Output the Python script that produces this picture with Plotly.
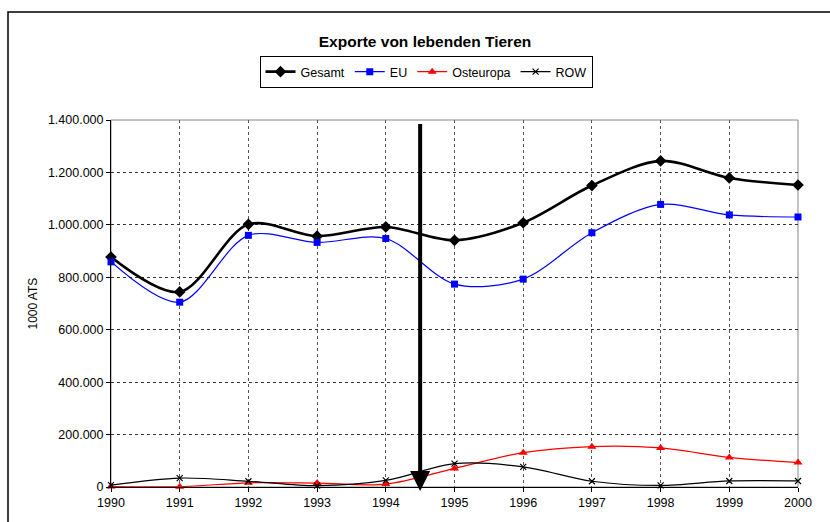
import plotly.graph_objects as go

# Exporte von lebenden Tieren, Werte in 1000 ATS
years = [1990, 1991, 1992, 1993, 1994, 1995, 1996, 1997, 1998, 1999, 2000]
gesamt = [877000, 744000, 1002000, 957000, 992000, 941000, 1008000, 1150000, 1244000, 1179000, 1152000]
eu = [859000, 705000, 960000, 933000, 948000, 774000, 793000, 970000, 1078000, 1038000, 1030000]
osteuropa = [2000, 1000, 16000, 15000, 11000, 71000, 131000, 154000, 149000, 113000, 93000]
row = [7000, 34000, 22000, 5000, 25000, 89000, 77000, 22000, 6000, 23000, 23000]

y_ticks = [0, 200000, 400000, 600000, 800000, 1000000, 1200000, 1400000]
marker_year = 1994.5  # Markierung zwischen 1994 und 1995

FONT = "Arial, Liberation Sans, sans-serif"

fig = go.Figure()

fig.add_trace(go.Scatter(
    x=years, y=gesamt, name="Gesamt", mode="lines+markers",
    line=dict(color="black", width=2.6, shape="spline", smoothing=0.9),
    marker=dict(symbol="diamond", size=9, color="black"),
    cliponaxis=False,
))
fig.add_trace(go.Scatter(
    x=years, y=eu, name="EU", mode="lines+markers",
    line=dict(color="#0000FF", width=1.2, shape="spline", smoothing=0.9),
    marker=dict(symbol="square", size=7, color="#0000FF"),
    cliponaxis=False,
))
fig.add_trace(go.Scatter(
    x=years, y=osteuropa, name="Osteuropa", mode="lines+markers",
    line=dict(color="#FF0000", width=1.2, shape="spline", smoothing=0.9),
    marker=dict(symbol="triangle-up", size=8, color="#FF0000"),
    cliponaxis=False,
))
fig.add_trace(go.Scatter(
    x=years, y=row, name="ROW", mode="lines+markers",
    line=dict(color="black", width=1.2, shape="spline", smoothing=0.9),
    marker=dict(symbol="x-thin", size=6, color="black",
                line=dict(color="black", width=1.2)),
    cliponaxis=False,
))

fig.update_layout(
    width=830, height=522,
    margin=dict(l=111, r=32, t=120, b=35),
    paper_bgcolor="white", plot_bgcolor="white",
    separators=",.",
    font=dict(family=FONT, size=12, color="black"),
    title=dict(
        text="<b>Exporte von lebenden Tieren</b>",
        font=dict(family=FONT, size=15.5, color="black"),
        x=425 / 830, xref="container", xanchor="center",
        y=1 - 42 / 522, yref="container", yanchor="middle",
    ),
    legend=dict(
        orientation="h",
        x=(426 - 111) / 687, xanchor="center",
        y=(487 - 72) / 367, yanchor="middle",
        bordercolor="black", borderwidth=1,
        font=dict(family=FONT, size=12.5),
        itemwidth=30, tracegroupgap=0,
    ),
    showlegend=True,
)

fig.update_xaxes(
    range=[1990, 2000], tickmode="array", tickvals=years,
    ticktext=[str(y) for y in years],
    showgrid=True, gridcolor="#555555", griddash="dot", gridwidth=1,
    showline=True, linecolor="black", linewidth=1,
    ticks="outside", ticklen=4, tickcolor="black",
    tickfont=dict(family=FONT, size=12.5),
    zeroline=False,
)
fig.update_yaxes(
    range=[0, 1400000], tickmode="array", tickvals=y_ticks,
    tickformat=",d",
    showgrid=True, gridcolor="#333333", griddash="dot", gridwidth=1,
    showline=True, linecolor="black", linewidth=1,
    ticks="outside", ticklen=4, tickcolor="black",
    tickfont=dict(family=FONT, size=12.5),
    zeroline=False,
)

# Rahmen der Zeichenfläche (grau) und äußerer Diagrammrahmen
fig.add_shape(type="rect", xref="paper", yref="paper", x0=0, y0=0, x1=1, y1=1,
              line=dict(color="#888888", width=1), layer="below")
fig.add_shape(type="rect", xref="paper", yref="paper",
              x0=(8 - 111) / 687, y0=(487 - 530) / 367,
              x1=(840 - 111) / 687, y1=(487 - 12) / 367,
              line=dict(color="black", width=1.5), layer="above")

# Achsentitel
fig.add_annotation(
    text="1000 ATS", textangle=-90, showarrow=False,
    xref="paper", yref="paper", x=(32 - 111) / 687, y=0.5,
    xanchor="center", yanchor="middle",
    font=dict(family=FONT, size=12),
)

# Senkrechter Pfeil
fig.add_annotation(
    x=marker_year, y=-15000, ax=marker_year, ay=1390000,
    xref="x", yref="y", axref="x", ayref="y",
    text="", showarrow=True, arrowhead=2, arrowsize=1,
    arrowwidth=4, arrowcolor="black", standoff=0,
)

fig.write_html("out.html")
